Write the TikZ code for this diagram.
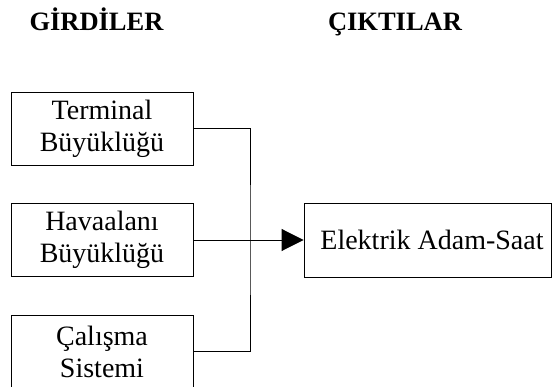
\documentclass[tikz,border=0pt]{standalone}
\usepackage{fontspec}
\setmainfont{Liberation Serif}
\usetikzlibrary{arrows.meta}

\begin{document}
\begin{tikzpicture}[x=1pt,y=-1pt,line width=0.9pt,
  inbox/.style={draw,minimum width=182pt,minimum height=73pt,inner sep=0pt,
    align=center,font=\fontsize{28}{32}\selectfont},
  outbox/.style={draw,minimum width=247pt,minimum height=74pt,inner sep=0pt,
    font=\fontsize{28}{32}\selectfont},
  header/.style={anchor=base,font=\fontsize{26.5}{30}\selectfont\bfseries}]
  \useasboundingbox (0,0) rectangle (552,387);
  % headers
  \node[header] (girdi) at (96.5,31) {GİRDİLER};
  \node[header] (cikti) at (395,31) {ÇIKTILAR};
  % inputs
  \node[inbox] (term) at (102,128.5) {Terminal\\Büyüklüğü};
  \node[inbox] (hava) at (102,240) {Havaalanı\\Büyüklüğü};
  \node[inbox] (calis) at (102,351.5) {Çalışma\\Sistemi};
  % output
  \node[outbox] (elek) at (427.5,240) {\hspace{9pt}Elektrik Adam-Saat};
  % connectors
  \coordinate (junc) at (250,240);
  \draw (term.east) -| (junc) |- (calis.east);
  \draw (hava.east) -- (junc);
  \draw[-{Triangle[length=22pt,width=22pt]}] (junc) -- (elek.west);
\end{tikzpicture}
\end{document}
